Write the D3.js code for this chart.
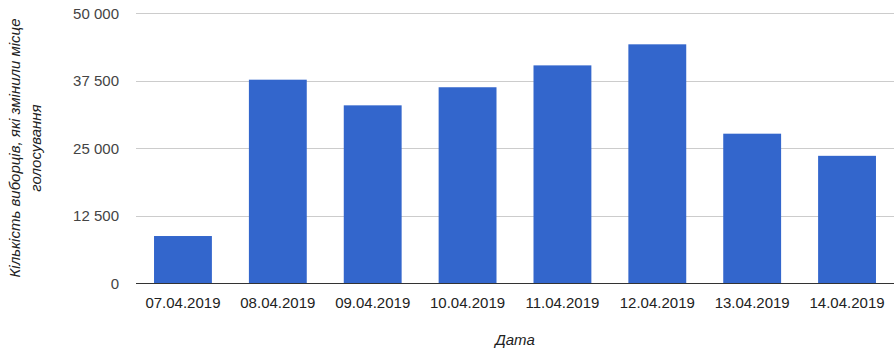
<!DOCTYPE html>
<html>
<head>
<meta charset="utf-8">
<script src="https://cdn.jsdelivr.net/npm/d3@7"></script>
<style>
  body { margin: 0; background: #fff; }
  svg { display: block; font-family: Arial, "Liberation Sans", sans-serif; }
</style>
</head>
<body>
<div class="container"></div>
<script>
'use strict'

const dates = ['07.04.2019', '08.04.2019', '09.04.2019', '10.04.2019',
  '11.04.2019', '12.04.2019', '13.04.2019', '14.04.2019']
const voters = [8700, 37650, 32900, 36250, 40300, 44200, 27650, 23550]
const yTicks = [0, 12500, 25000, 37500, 50000]
const yTitle = ['Кількість виборців, які змінили місце', 'голосування']
const xTitle = 'Дата'

const width = 894
const height = 348
const margin = { top: 13, right: 0, bottom: 65, left: 136 }

const svg = d3.select('.container').append('svg')
  .attr('width', width)
  .attr('height', height)

const x = d3.scaleBand()
  .domain(dates)
  .range([margin.left, width - margin.right])
  .paddingInner(0.39)
  .paddingOuter(0.19)

const y = d3.scaleLinear()
  .domain([0, 50000])
  .range([283, margin.top])

const fmt = v => d3.format(',')(v).replace(/,/g, ' ')

// gridlines
svg.append('g')
  .selectAll('line')
  .data(yTicks.filter(d => d > 0))
  .enter()
  .append('line')
    .attr('x1', margin.left)
    .attr('x2', width)
    .attr('y1', d => Math.round(y(d)) + 0.5)
    .attr('y2', d => Math.round(y(d)) + 0.5)
    .style('stroke', '#cccccc')

// y labels
svg.append('g')
  .selectAll('text')
  .data(yTicks)
  .enter()
  .append('text')
    .attr('x', 119)
    .attr('y', d => y(d) + 5.5)
    .style('text-anchor', 'end')
    .style('font-size', '15px')
    .style('fill', '#444')
    .text(fmt)

// bars
svg.append('g')
  .selectAll('rect')
  .data(dates)
  .enter()
  .append('rect')
    .attr('x', d => x(d))
    .attr('y', (d, i) => y(voters[i]))
    .attr('width', x.bandwidth())
    .attr('height', (d, i) => y(0) - y(voters[i]))
    .style('fill', '#3366cc')

// baseline
svg.append('line')
  .attr('x1', margin.left)
  .attr('x2', width)
  .attr('y1', Math.round(y(0)) + 0.5)
  .attr('y2', Math.round(y(0)) + 0.5)
  .style('stroke', '#333333')

// x labels
svg.append('g')
  .selectAll('text')
  .data(dates)
  .enter()
  .append('text')
    .attr('x', d => x(d) + x.bandwidth() / 2)
    .attr('y', 307.5)
    .style('text-anchor', 'middle')
    .style('font-size', '15px')
    .style('fill', '#222')
    .text(d => d)

svg.append('text')
  .attr('x', (margin.left + width) / 2)
  .attr('y', 345)
  .style('text-anchor', 'middle')
  .style('font-size', '15px')
  .style('font-style', 'italic')
  .style('fill', '#222')
  .text(xTitle)

const cy = (y(0) + y(50000)) / 2
yTitle.forEach((t, i) => {
  svg.append('text')
    .attr('transform', `translate(${20 + i * 21},${cy}) rotate(-90)`)
    .style('text-anchor', 'middle')
    .style('font-size', '15px')
    .style('font-style', 'italic')
    .style('fill', '#222')
    .text(t)
})
</script>
</body>
</html>
